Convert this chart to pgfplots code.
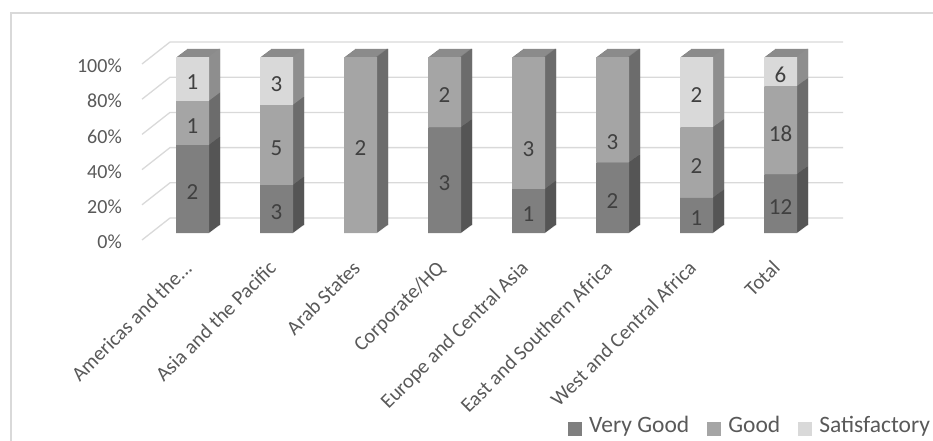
\documentclass[border=0pt]{standalone}
\usepackage{fontspec}
\setmainfont{Carlito}
\usepackage{pgfplots}
\usepackage{pgfplotstable}
\pgfplotsset{compat=1.18}
\definecolor{vgf}{HTML}{7F7F7F}
\definecolor{gf}{HTML}{A5A5A5}
\definecolor{sf}{HTML}{D9D9D9}
\definecolor{vgs}{HTML}{555555}
\definecolor{gs}{HTML}{6C6C6C}
\definecolor{ss}{HTML}{8E8E8E}
\definecolor{topc}{HTML}{8B8B8B}
\definecolor{gridc}{HTML}{D9D9D9}
\definecolor{axtext}{HTML}{595959}
\definecolor{labtext}{HTML}{404040}

% percentages (vg, g, s), the counts shown as labels (vgl, gl, sl),
% and a label offset for the Good labels (goff, pt)
\pgfplotstableread{
x vg    g     s     vgl gl sl goff
0 50    25    25    2   1  1  0
1 27.27 45.45 27.28 3   5  3  0
2 0     100   0     {}  2  {} 0
3 60    40    0     3   2  {} 0
4 25    75    0     1   3  {} 23
5 40    60    0     2   3  {} 29
6 20    40    40    1   2  2  0
7 33.33 50    16.67 12  18 6  0
}\datatable

\pgfplotsset{
  base/.style={scale only axis, width=672pt, height=176pt, anchor=south west,
    xmin=-0.5, xmax=7.5, ymin=0, ymax=100, enlargelimits=false,
    ybar stacked, clip=false},
  copy/.style={base, hide axis, bar width=33pt},
}

\begin{document}
\begin{tikzpicture}
\path[use as bounding box] (0,0) rectangle (933pt,-441pt);
\begin{scope}[x=1pt,y=-1pt]
  \draw[gridc, line width=1.3pt] (11,445) -- (11,13) -- (940,13);
  \foreach \v in {0,20,40,60,80,100}{
    \pgfmathsetmacro\yb{218-1.76*\v}
    \draw[gridc, line width=1.3pt] (142,\yb+22) -- (170,\yb) -- (843,\yb);
  }
\end{scope}

% top faces (extrusion)
\foreach \k in {11,10,9,8,7,6,5,4,3,2,1}{
  \begin{axis}[copy, at={({150.5pt+\k*1pt},{-233pt+0.7273*\k*1pt})}]
    \addplot[fill=topc, draw=none] table[x=x,y=vg]{\datatable};
    \addplot[fill=topc, draw=none] table[x=x,y=g]{\datatable};
    \addplot[fill=topc, draw=none] table[x=x,y=s]{\datatable};
  \end{axis}
}
% side faces
\foreach \k in {11,10,9,8,7,6,5,4,3,2,1}{
  \begin{axis}[copy, bar width=1.4pt, bar shift=15.8pt,
      at={({150.5pt+\k*1pt},{-233pt+0.7273*\k*1pt})}]
    \addplot[fill=vgs, draw=none] table[x=x,y=vg]{\datatable};
    \addplot[fill=gs, draw=none] table[x=x,y=g]{\datatable};
    \addplot[fill=ss, draw=none] table[x=x,y=s]{\datatable};
  \end{axis}
}

% front faces
\begin{axis}[base, at={(150.5pt,-233pt)}, bar width=33pt,
  axis line style={draw=none}, major tick length=0pt,
  xtick={-0.11,0.89,1.89,2.89,3.89,4.89,5.89,6.89},
  xticklabels={{Americas and the.{}.{}.},Asia and the Pacific,Arab States,Corporate/HQ,Europe and Central Asia,East and Southern Africa,West and Central Africa,Total},
  xticklabel shift=26pt,
  ytick={0,20,40,60,80,100},
  yticklabels={0\%,20\%,40\%,60\%,80\%,100\%},
  yticklabel style={anchor=east, inner sep=0pt, xshift=-28.5pt, yshift=-9pt,
    font=\fontsize{20}{24}\selectfont, text=axtext},
  xticklabel style={rotate=45, anchor=north east,
    inner sep=0pt, font=\fontsize{20.5}{24}\selectfont, text=axtext},
  every node near coord/.style={anchor=center, yshift=-3pt,
    font=\fontsize{23}{27}\selectfont, text=labtext, inner sep=0pt},
  legend columns=3,
  legend style={at={(0.6213,-1.153)}, anchor=south west, draw=none, fill=none,
    inner sep=0pt, font=\fontsize{23.5}{28}\selectfont, text=axtext,
    nodes={inner sep=0pt, text depth=0pt},
    /tikz/every odd column/.append style={column sep=7.5pt},
    /tikz/every even column/.append style={column sep=18pt}},
  legend image code/.code={\fill[#1] (0pt,-11pt) rectangle (13.5pt,2.5pt);},
]
  \addplot[fill=vgf, draw=none, point meta=explicit symbolic, nodes near coords]
    table[x=x,y=vg,meta=vgl]{\datatable};
  \addplot[fill=gf, draw=none, point meta=explicit symbolic, nodes near coords,
    visualization depends on={\thisrow{goff} \as \goff},
    every node near coord/.append style={yshift={-\goff pt}}]
    table[x=x,y=g,meta=gl]{\datatable};
  \addplot[fill=sf, draw=none, point meta=explicit symbolic, nodes near coords]
    table[x=x,y=s,meta=sl]{\datatable};
  \legend{Very Good,Good,Satisfactory}
\end{axis}
\end{tikzpicture}
\end{document}
